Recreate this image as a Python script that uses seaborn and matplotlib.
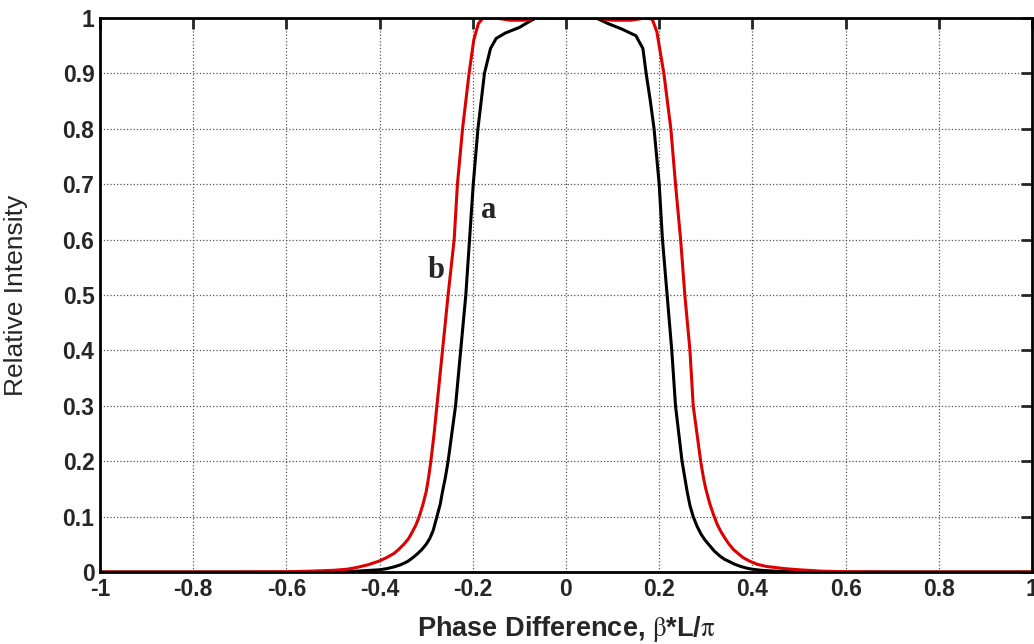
import numpy as np
import pandas as pd
import seaborn as sns
import matplotlib.pyplot as plt

# curve a (black)
xa = [-1.0, -0.6, -0.5, -0.45, -0.42, -0.40, -0.385, -0.37, -0.355, -0.34, -0.33, -0.32,
      -0.31, -0.30, -0.292, -0.285, -0.277, -0.27, -0.265, -0.259,
      -0.253, -0.245, -0.237, -0.226, -0.215, -0.207, -0.199, -0.189, -0.175, -0.162,
      -0.150, -0.130, -0.10, -0.08, -0.065, -0.03, 0.0, 0.03, 0.065, 0.09, 0.12, 0.150,
      0.165, 0.172, 0.181, 0.189, 0.200, 0.207, 0.217, 0.227, 0.235, 0.249, 0.255, 0.26,
      0.266, 0.273, 0.281, 0.29, 0.298, 0.307, 0.318, 0.33, 0.34, 0.35, 0.362, 0.375,
      0.39, 0.40, 0.42, 0.45, 0.5, 0.6, 1.0]
ya = [0.0, 0.0, 0.0005, 0.0015, 0.003, 0.004, 0.006, 0.009, 0.013, 0.019, 0.025, 0.032,
      0.04, 0.05, 0.061, 0.075, 0.10, 0.122, 0.145, 0.17,
      0.20, 0.25, 0.30, 0.40, 0.50, 0.60, 0.70, 0.80, 0.90, 0.945,
      0.963, 0.973, 0.983, 0.993, 1.0, 1.0, 0.999, 1.0, 1.0, 0.99, 0.98, 0.968,
      0.945, 0.90, 0.85, 0.80, 0.70, 0.60, 0.50, 0.40, 0.30, 0.20, 0.17, 0.145,
      0.12, 0.10, 0.083, 0.068, 0.058, 0.049, 0.038, 0.029, 0.023, 0.019, 0.014, 0.01,
      0.0065, 0.005, 0.003, 0.0015, 0.0005, 0.0, 0.0]

# curve b (red)
xb = [-1.0, -0.7, -0.6, -0.55, -0.5, -0.47, -0.45, -0.425, -0.40, -0.385, -0.37, -0.36,
      -0.348, -0.338, -0.33, -0.322, -0.315, -0.307, -0.30, -0.295,
      -0.290, -0.283, -0.277, -0.265, -0.253, -0.240, -0.233, -0.222, -0.208, -0.198,
      -0.188, -0.178, -0.15, -0.12, -0.09, -0.06, 0.0, 0.06, 0.10, 0.14, 0.17, 0.185,
      0.195, 0.200, 0.210, 0.225, 0.235, 0.246, 0.255, 0.266, 0.273, 0.289, 0.295, 0.30,
      0.309, 0.318, 0.325, 0.333, 0.342, 0.35, 0.36, 0.37, 0.38, 0.393, 0.41, 0.43,
      0.45, 0.47, 0.5, 0.55, 0.6, 0.7, 1.0]
yb = [0.0, 0.0, 0.0005, 0.0015, 0.003, 0.005, 0.008, 0.013, 0.02, 0.026, 0.033, 0.04,
      0.05, 0.06, 0.072, 0.085, 0.10, 0.122, 0.145, 0.17,
      0.20, 0.25, 0.30, 0.40, 0.50, 0.60, 0.70, 0.80, 0.90, 0.96,
      0.99, 1.0, 1.0, 0.996, 0.996, 1.0, 1.0, 1.0, 0.996, 0.996, 1.0, 0.998,
      0.975, 0.95, 0.90, 0.80, 0.70, 0.60, 0.50, 0.40, 0.30, 0.20, 0.17, 0.15,
      0.122, 0.10, 0.085, 0.072, 0.06, 0.05, 0.04, 0.033, 0.026, 0.02, 0.014, 0.01,
      0.008, 0.006, 0.004, 0.0015, 0.0005, 0.0, 0.0]

xticks = [-1, -0.8, -0.6, -0.4, -0.2, 0, 0.2, 0.4, 0.6, 0.8, 1]
yticks = [0, 0.1, 0.2, 0.3, 0.4, 0.5, 0.6, 0.7, 0.8, 0.9, 1]

sns.set_style("white")
plt.rcParams['font.family'] = ['Liberation Sans', 'DejaVu Sans']
plt.rcParams['mathtext.fontset'] = 'stix'

fig = plt.figure(figsize=(10.34, 6.44), dpi=100)
ax = fig.add_axes([100 / 1034, 72 / 644, 932 / 1034, 554 / 644])

sns.lineplot(x=xa, y=ya, ax=ax, color='black', linewidth=2.2, estimator=None)
sns.lineplot(x=xb, y=yb, ax=ax, color='#dd0000', linewidth=2.2, estimator=None)

ax.set_xlim(-1, 1)
ax.set_ylim(0, 1)
ax.set_xticks(xticks)
ax.set_yticks(yticks)
ax.set_xticklabels(['%g' % v for v in xticks], fontsize=16.5, fontweight='bold')
ax.set_yticklabels(['%g' % v for v in yticks], fontsize=16.5, fontweight='bold')
ax.tick_params(direction='in', length=8, width=2, top=True, right=True, pad=4)
for s in ax.spines.values():
    s.set_linewidth(2)
    s.set_color('black')
ax.grid(True, linestyle=':', color='#555555', linewidth=0.9)

ax.set_xlabel(r'Phase Difference, $\mathrm{\beta}$*L/$\mathrm{\pi}$', fontsize=19.5, fontweight='bold')
ax.set_ylabel('Relative Intensity', fontsize=19)
ax.xaxis.set_label_coords(0.5, -0.075)
ax.yaxis.set_label_coords(-0.077, 0.5)

ax.text(-0.165, 0.653, 'a', family='Liberation Serif', fontsize=22, fontweight='bold', ha='center', va='center')
ax.text(-0.279, 0.545, 'b', family='Liberation Serif', fontsize=22, fontweight='bold', ha='center', va='center')

fig.savefig('out.png', dpi=100)
